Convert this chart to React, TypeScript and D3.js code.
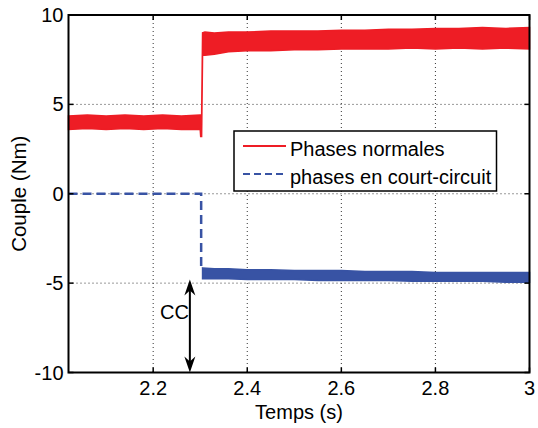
import React from "react";
import * as d3 from "d3";

const xTicks = [2.2, 2.4, 2.6, 2.8, 3];
const yTicks = [-10, -5, 0, 5, 10];
const xGrid = [2.2, 2.4, 2.6, 2.8];
const yGrid = [-5, 0, 5];

// Red envelope (Phases normales)
const redT = [2.02, 2.06, 2.1, 2.14, 2.18, 2.22, 2.26, 2.3, 2.301, 2.303, 2.305, 2.31, 2.33, 2.36, 2.4, 2.45, 2.5, 2.55, 2.6, 2.65, 2.7, 2.75, 2.8, 2.85, 2.9, 2.95, 3.0];
const redUp = [4.35, 4.4, 4.35, 4.4, 4.35, 4.4, 4.35, 4.4, 4.4, 4.3, 9.0, 9.05, 9.0, 9.05, 9.05, 9.1, 9.1, 9.1, 9.15, 9.15, 9.2, 9.2, 9.25, 9.25, 9.3, 9.25, 9.3];
const redLo = [3.6, 3.65, 3.6, 3.65, 3.6, 3.65, 3.6, 3.6, 3.2, 3.2, 7.75, 7.75, 7.8, 7.95, 8.0, 8.0, 8.05, 8.05, 8.1, 8.1, 8.1, 8.15, 8.1, 8.15, 8.1, 8.15, 8.1];

// Blue (phases en court-circuit)
const blueLineT = [2.02, 2.302, 2.302];
const blueLineV = [0, 0, -4.2];
const blueT = [2.305, 2.33, 2.36, 2.4, 2.45, 2.5, 2.55, 2.6, 2.65, 2.7, 2.75, 2.8, 2.85, 2.9, 2.95, 3.0];
const blueUp = [-4.15, -4.2, -4.2, -4.25, -4.25, -4.3, -4.3, -4.3, -4.35, -4.35, -4.35, -4.4, -4.4, -4.4, -4.4, -4.4];
const blueLo = [-4.75, -4.75, -4.75, -4.8, -4.8, -4.8, -4.85, -4.85, -4.85, -4.85, -4.9, -4.9, -4.9, -4.9, -4.95, -4.95];

const legendLabels = ["Phases normales", "phases en court-circuit"];

const RED = "#ee1d25";
const BLUE = "#3853a4";
const FONT = "'Liberation Sans', Arial, sans-serif";

export default function App() {
  const W = 538, H = 428;
  const L = 68.5, R = 529.5, T = 15, B = 372.5;
  const x = d3.scaleLinear().domain([2.02, 3]).range([L, R]);
  const y = d3.scaleLinear().domain([-10, 10]).range([B, T]);

  const redArea = d3.area<number>()
    .x((_, i) => x(redT[i]))
    .y0((_, i) => y(redLo[i]))
    .y1((_, i) => y(redUp[i]))(redT.map((_, i) => i)) || "";
  const blueArea = d3.area<number>()
    .x((_, i) => x(blueT[i]))
    .y0((_, i) => y(blueLo[i]))
    .y1((_, i) => y(blueUp[i]))(blueT.map((_, i) => i)) || "";
  const blueLine = d3.line<number>()
    .x((i) => x(blueLineT[i]))
    .y((i) => y(blueLineV[i]))(blueLineT.map((_, i) => i)) || "";

  const arrowX = x(2.278);
  const arrowTop = y(-4.8);
  const arrowBot = y(-10);

  return (
    <svg width={W} height={H} style={{ position: "absolute", left: 0, top: 0, background: "#fff" }}>
      <rect x={0} y={0} width={W} height={H} fill="#fff" />
      {/* grid */}
      {xGrid.map((v) => (
        <line key={"gx" + v} x1={x(v)} x2={x(v)} y1={T} y2={B} stroke="#333" strokeWidth={1} strokeDasharray="1,3" />
      ))}
      {yGrid.map((v) => (
        <line key={"gy" + v} x1={L} x2={R} y1={y(v)} y2={y(v)} stroke="#333" strokeWidth={1} strokeDasharray="1,3" />
      ))}
      {/* data */}
      <path d={redArea} fill={RED} stroke={RED} strokeWidth={1.5} />
      <path d={blueArea} fill={BLUE} stroke={BLUE} strokeWidth={1.5} />
      <path d={blueLine} fill="none" stroke={BLUE} strokeWidth={2.5} strokeDasharray="9,5" />
      {/* axes box */}
      <rect x={L} y={T} width={R - L} height={B - T} fill="none" stroke="#000" strokeWidth={2} />
      {/* ticks */}
      {xTicks.map((v) => (
        <g key={"tx" + v}>
          <line x1={x(v)} x2={x(v)} y1={B} y2={B - 5} stroke="#000" strokeWidth={1.5} />
          <line x1={x(v)} x2={x(v)} y1={T} y2={T + 5} stroke="#000" strokeWidth={1.5} />
          <text x={x(v)} y={B + 22.5} textAnchor="middle" fontFamily={FONT} fontSize={20} fill="#000">{String(v)}</text>
        </g>
      ))}
      {yTicks.map((v) => (
        <g key={"ty" + v}>
          <line x1={L} x2={L + 5} y1={y(v)} y2={y(v)} stroke="#000" strokeWidth={1.5} />
          <line x1={R} x2={R - 5} y1={y(v)} y2={y(v)} stroke="#000" strokeWidth={1.5} />
          <text x={L - 5} y={y(v) + 7} textAnchor="end" fontFamily={FONT} fontSize={20} fill="#000">{String(v)}</text>
        </g>
      ))}
      <text x={(L + R) / 2} y={419} textAnchor="middle" fontFamily={FONT} fontSize={20} fill="#000">Temps (s)</text>
      <text transform={`translate(25.5,${(T + B) / 2}) rotate(-90)`} textAnchor="middle" fontFamily={FONT} fontSize={20.5} fill="#000">Couple (Nm)</text>
      {/* CC arrow */}
      <line x1={arrowX} x2={arrowX} y1={arrowTop + 8} y2={arrowBot - 8} stroke="#000" strokeWidth={2} />
      <path d={`M${arrowX},${arrowTop} L${arrowX - 5.5},${arrowTop + 16} L${arrowX},${arrowTop + 11} L${arrowX + 5.5},${arrowTop + 16} Z`} fill="#000" />
      <path d={`M${arrowX},${arrowBot} L${arrowX - 5.5},${arrowBot - 16} L${arrowX},${arrowBot - 11} L${arrowX + 5.5},${arrowBot - 16} Z`} fill="#000" />
      <text x={174.5} y={319} textAnchor="middle" fontFamily={FONT} fontSize={20} fill="#000">CC</text>
      {/* legend */}
      <rect x={234} y={131} width={262.5} height={60} fill="#fff" stroke="#000" strokeWidth={1.5} />
      <line x1={243} x2={286} y1={146} y2={146} stroke={RED} strokeWidth={2} />
      <line x1={243} x2={286} y1={174} y2={174} stroke={BLUE} strokeWidth={2} strokeDasharray="7,4" />
      <text x={290} y={156} fontFamily={FONT} fontSize={20} fill="#000">{legendLabels[0]}</text>
      <text x={290} y={184} fontFamily={FONT} fontSize={20} fill="#000">{legendLabels[1]}</text>
    </svg>
  );
}
